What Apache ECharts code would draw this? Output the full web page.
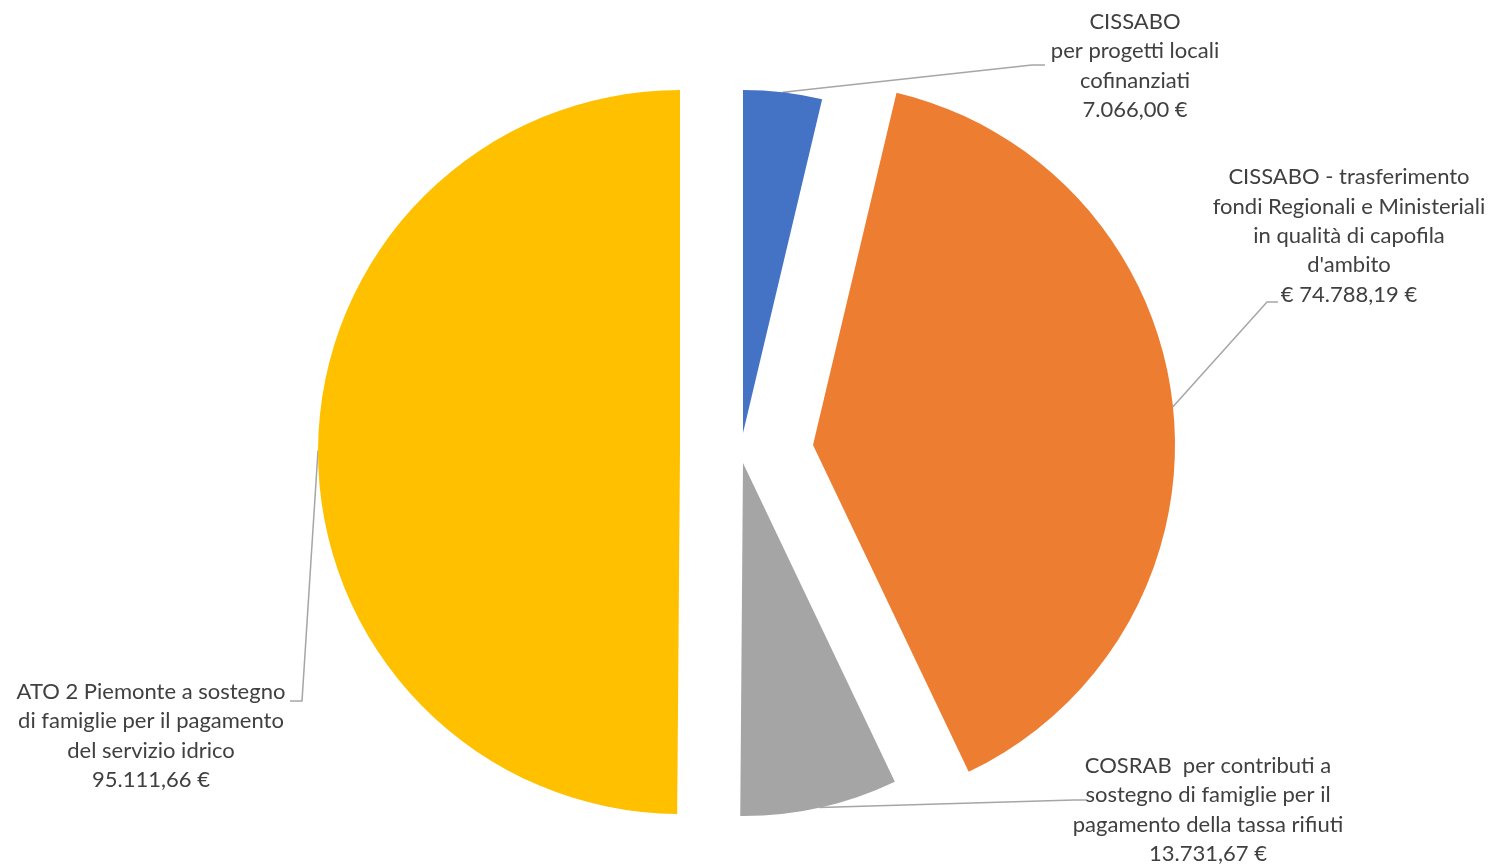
<!DOCTYPE html>
<html><head><meta charset="utf-8">
<script src="https://cdn.jsdelivr.net/npm/echarts@6/dist/echarts.min.js"></script>
<style>html,body{margin:0;padding:0;background:#fff}#c{width:1492px;height:865px}</style>
</head><body><div id="c"></div>
<script>
// ---- data ----
const categories = [
  'CISSABO\nper progetti locali\ncofinanziati',
  'CISSABO - trasferimento\nfondi Regionali e Ministeriali\nin qualità di capofila\nd\'ambito',
  'COSRAB  per contributi a\nsostegno di famiglie per il\npagamento della tassa rifiuti',
  'ATO 2 Piemonte a sostegno\ndi famiglie per il pagamento\ndel servizio idrico'
];
const values = [7066.00, 74788.19, 13731.67, 95111.66];
const valuePrefixes = ['', '€ ', '', ''];

// ---- style / layout ----
const colors = ['#4472C4', '#ED7D31', '#A5A5A5', '#FFC000'];
const sliceLayout = [
  { center: [743, 433], radius: 343, label: [1135, 66],  line: [[1032, 65], [1045, 65]] },
  { center: [813, 445], radius: 362, label: [1349, 236], line: [[1267, 302], [1278, 302]] },
  { center: [743, 463], radius: 353, label: [1208, 810], line: [[1074, 800], [1087, 800]] },
  { center: [680, 452], radius: 362, label: [151, 736],  line: [[302, 701], [290, 701]] }
];

function fmtIt(v) {
  const parts = v.toFixed(2).split('.');
  const int = parts[0].replace(/\B(?=(\d{3})+(?!\d))/g, '.');
  return int + ',' + parts[1] + ' €';
}

const chart = echarts.init(document.getElementById('c'), null, { renderer: 'canvas' });
const series = sliceLayout.map((L, i) => ({
  type: 'pie',
  silent: true,
  center: L.center,
  radius: L.radius,
  startAngle: 90,
  clockwise: true,
  avoidLabelOverlap: false,
  animation: false,
  emphasis: { disabled: true },
  label: {
    position: 'outside',
    width: 420,
    overflow: 'none',
    fontFamily: 'Lato',
    fontSize: 22,
    lineHeight: 29.3,
    color: '#404040',
    align: 'center',
    formatter: p => p.name + '\n' + valuePrefixes[p.dataIndex] + fmtIt(p.value)
  },
  labelLine: { show: true, lineStyle: { color: '#A6A6A6', width: 1.5 } },
  labelLayout: function (params) {
    if (params.dataIndex !== i) return {};
    const a = params.labelLinePoints ? params.labelLinePoints[0] : null;
    const out = { x: L.label[0], y: L.label[1], align: 'center', verticalAlign: 'middle' };
    if (a) out.labelLinePoints = [[a[0], a[1]], L.line[0], L.line[1]];
    return out;
  },
  data: values.map((v, j) => ({
    name: categories[j],
    value: v,
    itemStyle: { color: j === i ? colors[i] : 'rgba(0,0,0,0)' },
    label: { show: j === i },
    labelLine: { show: j === i }
  }))
}));

chart.setOption({ backgroundColor: '#ffffff', animation: false, series: series });
</script>
</body></html>
